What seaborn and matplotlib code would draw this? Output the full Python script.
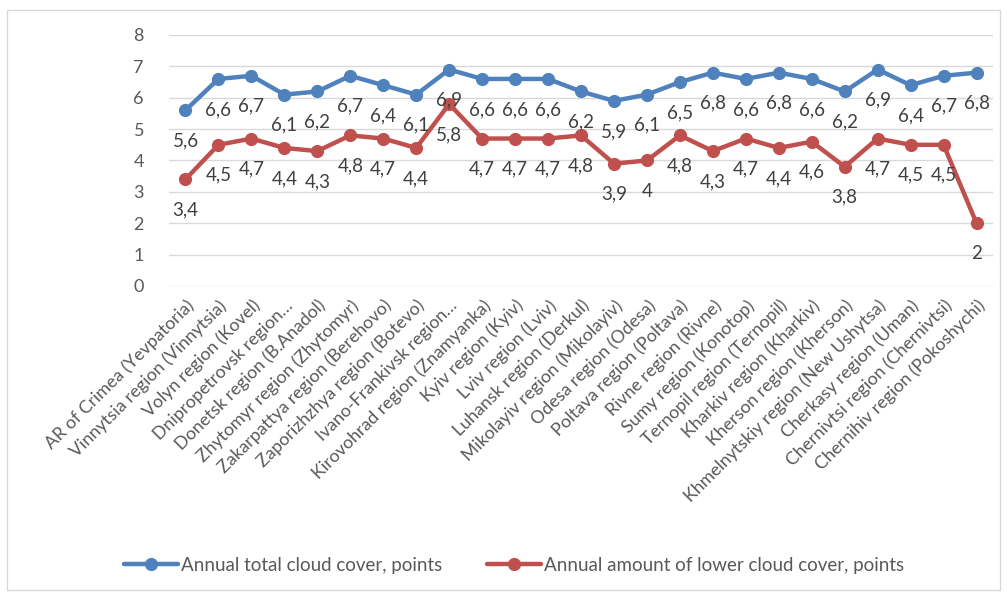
import matplotlib
matplotlib.use("Agg")
import matplotlib.pyplot as plt
import seaborn as sns
import pandas as pd
import numpy as np
from matplotlib.patches import Rectangle
from matplotlib.lines import Line2D

categories = [
    "AR of Crimea (Yevpatoria)", "Vinnytsia region (Vinnytsia)", "Volyn region (Kovel)",
    "Dnipropetrovsk region…", "Donetsk region (B.Anadol)", "Zhytomyr region (Zhytomyr)",
    "Zakarpattya region (Berehovo)", "Zaporizhzhya region (Botevo)", "Ivano-Frankivsk region…",
    "Kirovohrad region (Znamyanka)", "Kyiv region (Kyiv)", "Lviv region (Lviv)",
    "Luhansk region (Derkul)", "Mikolayiv region (Mikolayiv)", "Odesa region (Odesa)",
    "Poltava region (Poltava)", "Rivne region (Rivne)", "Sumy region (Konotop)",
    "Ternopil region (Ternopil)", "Kharkiv region (Kharkiv)", "Kherson region (Kherson)",
    "Khmelnytskiy region (New Ushytsa)", "Cherkasy region (Uman)", "Chernivtsi region (Chernivtsi)",
    "Chernihiv region (Pokoshychi)",
]
total_cloud = [5.6, 6.6, 6.7, 6.1, 6.2, 6.7, 6.4, 6.1, 6.9, 6.6, 6.6, 6.6, 6.2,
               5.9, 6.1, 6.5, 6.8, 6.6, 6.8, 6.6, 6.2, 6.9, 6.4, 6.7, 6.8]
lower_cloud = [3.4, 4.5, 4.7, 4.4, 4.3, 4.8, 4.7, 4.4, 5.8, 4.7, 4.7, 4.7, 4.8,
               3.9, 4.0, 4.8, 4.3, 4.7, 4.4, 4.6, 3.8, 4.7, 4.5, 4.5, 2.0]
series_names = ["Annual total cloud cover, points",
                "Annual amount of lower cloud cover, points"]
y_ticks = [0, 1, 2, 3, 4, 5, 6, 7, 8]

colors = ["#4F81BD", "#C0504D"]
text_color = "#595959"

sns.set_theme(style="white")
plt.rcParams['font.family'] = ['Lato', 'DejaVu Sans']

n = len(categories)
df = pd.DataFrame({
    "x": list(range(n)) * 2,
    "value": total_cloud + lower_cloud,
    "series": [series_names[0]] * n + [series_names[1]] * n,
})

fig = plt.figure(figsize=(10.07, 5.94), dpi=100)
ax = fig.add_axes([169 / 1007, 1 - 286 / 594, (993 - 169) / 1007, (286 - 35) / 594])

sns.lineplot(data=df, x="x", y="value", hue="series", palette=colors,
             marker="o", markersize=9.5, markeredgewidth=0, linewidth=3.2,
             sort=False, ax=ax, legend=False)

def fmt(v):
    s = f"{v:g}"
    return s.replace(".", ",")

for vals in (total_cloud, lower_cloud):
    for i, v in enumerate(vals):
        ax.annotate(fmt(v), (i, v), xytext=(0, -22), textcoords="offset points",
                    ha="center", va="center", fontsize=13.5, color="#404040")

ax.set_xlim(-0.5, n - 0.5)
ax.set_ylim(0, 8)
ax.set_yticks(y_ticks)
ax.set_yticklabels([str(t) for t in y_ticks], fontsize=13, color=text_color)
ax.set_xticks(range(n))
ax.set_xticklabels(categories, rotation=45, ha="right", rotation_mode="anchor",
                   fontsize=12.8, color=text_color)
ax.tick_params(axis="y", length=0, pad=18)
ax.tick_params(axis="x", length=0, pad=8)
ax.set_xlabel("")
ax.set_ylabel("")
for s in ax.spines.values():
    s.set_visible(False)
ax.yaxis.grid(True, color="#D9D9D9", linewidth=1)
ax.set_axisbelow(True)

handles = [Line2D([0], [0], color=c, linewidth=3.2, marker="o", markersize=9.5,
                  markeredgewidth=0) for c in colors]
fig.legend(handles, series_names, loc="center", bbox_to_anchor=(514 / 1007, 29 / 594),
           ncol=2, frameon=False, fontsize=13.5, labelcolor=text_color,
           handlelength=2.9, handletextpad=0.15, columnspacing=2.4)

fig.patches.append(Rectangle((7 / 1007, 4 / 594), 993 / 1007, 580 / 594,
                             transform=fig.transFigure, fill=False,
                             edgecolor="#D9D9D9", linewidth=1))

fig.savefig("out.png", dpi=100)
